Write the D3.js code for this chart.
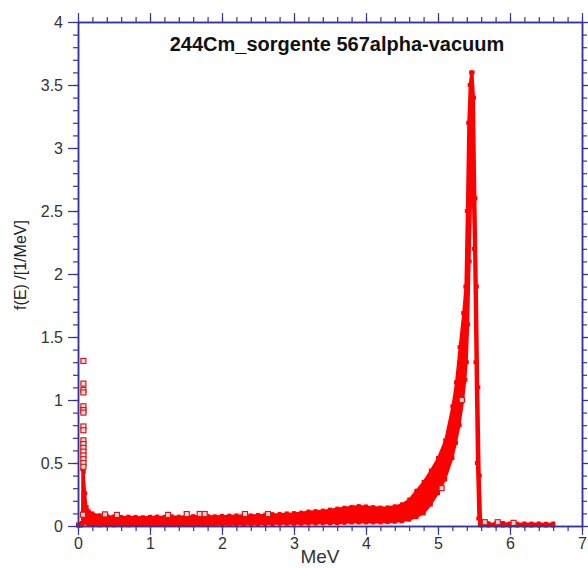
<!DOCTYPE html>
<html>
<head>
<meta charset="utf-8">
<script src="https://cdn.jsdelivr.net/npm/d3@7"></script>
<style>
  body { margin: 0; background: #fff; }
  text { font-family: "Liberation Sans", Arial, sans-serif; }
</style>
</head>
<body>
<svg id="chart"></svg>
<script>
// Spectrum band: energy (MeV), lower and upper edge of the red band
const energy = [0, 0.03, 0.055, 0.06, 0.08, 0.1, 0.12, 0.15, 0.2, 0.3, 0.4, 0.5, 0.6, 0.7, 0.8, 0.9,
  1.0, 1.1, 1.2, 1.3, 1.4, 1.5, 1.6, 1.7, 1.8, 1.9, 2.0, 2.1, 2.2, 2.3, 2.4, 2.5, 2.6, 2.7, 2.8, 2.9,
  3.0, 3.1, 3.2, 3.3, 3.4, 3.5, 3.6, 3.7, 3.8, 3.9, 4.0, 4.1, 4.2, 4.3, 4.4, 4.5, 4.6, 4.7, 4.8, 4.9,
  5.0, 5.1, 5.2, 5.25, 5.3, 5.35, 5.38, 5.4, 5.42, 5.44, 5.46, 5.48, 5.5, 5.52, 5.54, 5.56, 5.58, 5.6,
  5.7, 5.8, 5.9, 6.0, 6.1, 6.2, 6.3, 6.4, 6.5, 6.6];
const fLow = [0.003, 0.004, 0.006, 0.02, 0.03, 0.03, 0.02, 0.012, 0.008, 0.006, 0.008, 0.006, 0.008, 0.006, 0.008, 0.008,
  0.008, 0.008, 0.008, 0.008, 0.008, 0.01, 0.008, 0.01, 0.008, 0.01, 0.01, 0.01, 0.012, 0.012, 0.012, 0.012, 0.015, 0.015, 0.018, 0.018,
  0.018, 0.018, 0.02, 0.02, 0.022, 0.022, 0.022, 0.025, 0.028, 0.028, 0.028, 0.028, 0.028, 0.03, 0.033, 0.038, 0.05, 0.07, 0.1, 0.17,
  0.26, 0.37, 0.54, 0.66, 0.8, 1.0, 1.16, 1.3, 1.6, 2.1, 2.6, 2.7, 2.2, 1.3, 0.5, 0.06, 0.01, 0.005,
  0.004, 0.004, 0.004, 0.004, 0.004, 0.004, 0.004, 0.004, 0.004, 0.004];
const fHigh = [0.012, 0.018, 0.025, 0.45, 0.43, 0.26, 0.15, 0.115, 0.1, 0.085, 0.08, 0.075, 0.072, 0.074, 0.072, 0.07,
  0.073, 0.075, 0.072, 0.077, 0.074, 0.08, 0.078, 0.082, 0.08, 0.077, 0.08, 0.082, 0.084, 0.086, 0.084, 0.088, 0.09, 0.094, 0.095, 0.1,
  0.102, 0.106, 0.115, 0.118, 0.122, 0.13, 0.138, 0.145, 0.152, 0.158, 0.155, 0.15, 0.146, 0.148, 0.156, 0.172, 0.21, 0.28, 0.35, 0.44,
  0.54, 0.68, 0.95, 1.14, 1.42, 1.69, 1.9, 2.5, 3.2, 3.5, 3.6, 3.6, 3.4, 2.6, 1.9, 1.1, 0.4, 0.04,
  0.022, 0.02, 0.024, 0.02, 0.018, 0.02, 0.019, 0.02, 0.018, 0.02];

// Isolated squares: low-energy spike and a few stray points
const spikeE = [0.075, 0.075, 0.075, 0.075, 0.075, 0.075, 0.075, 0.075, 0.075, 0.075, 0.075, 0.075, 0.075, 0.075, 0.075, 0.075, 0.075, 0.07];
const spikeF = [1.31, 1.13, 1.08, 1.06, 0.95, 0.92, 0.9, 0.79, 0.76, 0.68, 0.65, 0.62, 0.59, 0.56, 0.53, 0.5, 0.47, 0.09];
const strayE = [0.375, 0.54, 1.25, 1.51, 1.69, 1.76, 2.32, 2.64, 5.05, 5.33, 5.65, 5.83, 6.05];
const strayF = [0.092, 0.088, 0.088, 0.095, 0.095, 0.095, 0.095, 0.095, 0.3, 1.0, 0.03, 0.03, 0.025];

const xTicks = [0, 1, 2, 3, 4, 5, 6, 7];
const yTicks = [0, 0.5, 1, 1.5, 2, 2.5, 3, 3.5, 4];

const width = 588, height = 568;
const margin = { top: 22, right: 6, bottom: 42, left: 78 };
const axisColor = "#34349c";

const svg = d3.select("#chart").attr("width", width).attr("height", height);

const x = d3.scaleLinear().domain([0, 7]).range([margin.left, width - margin.right]);
const y = d3.scaleLinear().domain([0, 4]).range([height - margin.bottom, margin.top]);

const band = energy.map((e, i) => ({ e: e, lo: fLow[i], hi: fHigh[i] }));

// Red band
const area = d3.area()
    .x(d => x(d.e))
    .y0(d => y(d.lo))
    .y1(d => y(d.hi));

svg.append("path")
    .datum(band)
    .attr("fill", "#ff0000")
    .attr("stroke", "#ff0000")
    .attr("stroke-width", 2)
    .attr("stroke-linejoin", "round")
    .attr("d", area);

// Squares along the band edges
const edgePts = band.map(d => [d.e, d.lo]).concat(band.map(d => [d.e, d.hi]));
svg.append("g").selectAll("rect")
    .data(edgePts)
    .enter().append("rect")
    .attr("x", d => x(d[0]) - 2)
    .attr("y", d => y(d[1]) - 2)
    .attr("width", 4)
    .attr("height", 4)
    .attr("fill", "#ff0000");

// Hollow squares
const loose = spikeE.map((e, i) => [e, spikeF[i]]).concat(strayE.map((e, i) => [e, strayF[i]]));
svg.append("g").selectAll("rect")
    .data(loose)
    .enter().append("rect")
    .attr("x", d => x(d[0]) - 2.5)
    .attr("y", d => y(d[1]) - 2.5)
    .attr("width", 5)
    .attr("height", 5)
    .attr("fill", "#ffe0e0")
    .attr("stroke", "#d81818")
    .attr("stroke-width", 1.2);

// Axes: major + minor ticks, mirrored on top and right
function styleAxis(g) {
    g.select(".domain").attr("stroke", axisColor).attr("stroke-width", 1.5);
    g.selectAll(".tick line").attr("stroke", axisColor).attr("stroke-width", 1.2);
    g.selectAll(".tick text")
        .attr("fill", "#333")
        .style("font-size", "16px")
        .style("font-family", "'Liberation Sans', Arial, sans-serif");
}

const xMinor = d3.range(0, 7.001, 0.2);
const yMinor = d3.range(0, 4.001, 0.1);

// bottom
svg.append("g").attr("transform", `translate(0,${y(0)})`)
    .call(d3.axisBottom(x).tickValues(xMinor).tickSize(5).tickSizeOuter(0).tickFormat(""))
    .call(styleAxis);
svg.append("g").attr("transform", `translate(0,${y(0)})`)
    .call(d3.axisBottom(x).tickValues(xTicks).tickSize(9).tickSizeOuter(0).tickPadding(3).tickFormat(d3.format("d")))
    .call(styleAxis);
// top
svg.append("g").attr("transform", `translate(0,${y(4)})`)
    .call(d3.axisTop(x).tickValues(xMinor).tickSize(5).tickSizeOuter(0).tickFormat(""))
    .call(styleAxis);
svg.append("g").attr("transform", `translate(0,${y(4)})`)
    .call(d3.axisTop(x).tickValues(xTicks).tickSize(9).tickSizeOuter(0).tickFormat(""))
    .call(styleAxis);
// left
svg.append("g").attr("transform", `translate(${x(0)},0)`)
    .call(d3.axisLeft(y).tickValues(yMinor).tickSize(5).tickSizeOuter(0).tickFormat(""))
    .call(styleAxis);
svg.append("g").attr("transform", `translate(${x(0)},0)`)
    .call(d3.axisLeft(y).tickValues(yTicks).tickSize(10).tickSizeOuter(0).tickPadding(5).tickFormat(d3.format("")))
    .call(styleAxis);
// right
svg.append("g").attr("transform", `translate(${x(7)},0)`)
    .call(d3.axisRight(y).tickValues(yMinor).tickSize(5).tickSizeOuter(0).tickFormat(""))
    .call(styleAxis);
svg.append("g").attr("transform", `translate(${x(7)},0)`)
    .call(d3.axisRight(y).tickValues(yTicks).tickSize(9).tickSizeOuter(0).tickFormat(""))
    .call(styleAxis);

// Title
svg.append("text")
    .attr("x", 337)
    .attr("y", 51)
    .attr("text-anchor", "middle")
    .style("font-size", "20px")
    .style("font-weight", "bold")
    .attr("fill", "#111")
    .text("244Cm_sorgente 567alpha-vacuum");

// X-axis label
svg.append("text")
    .attr("x", 320)
    .attr("y", 563)
    .attr("text-anchor", "middle")
    .style("font-size", "19px")
    .attr("fill", "#333")
    .text("MeV");

// Y-axis label
svg.append("text")
    .attr("transform", "rotate(-90)")
    .attr("x", -265)
    .attr("y", 26)
    .attr("text-anchor", "middle")
    .style("font-size", "16px")
    .attr("fill", "#222")
    .text("f(E) /[1/MeV]");
</script>
</body>
</html>
